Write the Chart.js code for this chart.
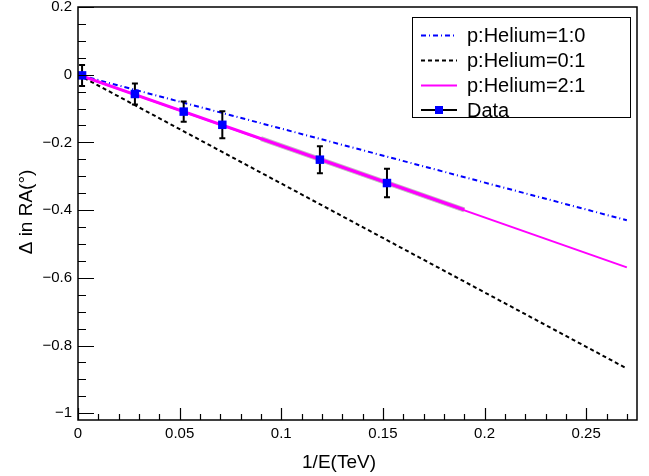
<!DOCTYPE html>
<html>
<head>
<meta charset="utf-8">
<script src="https://cdn.jsdelivr.net/npm/chart.js@4.4.0/dist/chart.umd.min.js"></script>
<style>
  body { margin: 0; background: #fff; }
  #wrap { width: 649px; height: 476px; }
</style>
</head>
<body>
<div id="wrap"><canvas id="c" width="649" height="476"></canvas></div>
<script>
// measured points
const dataX = [0.002, 0.028, 0.052, 0.071, 0.119, 0.152];
const dataY = [-0.002, -0.057, -0.109, -0.148, -0.251, -0.320];
const dataErr = [0.031, 0.031, 0.030, 0.040, 0.040, 0.042];

// model lines (start and end)
const modelX = [0, 0.27];
const protonOnly = [0, -0.43];   // p:Helium=1:0
const heliumOnly = [0, -0.868];  // p:Helium=0:1
const mixed21 = [0, -0.569];     // p:Helium=2:1

// fit over data range
const fitX = [0, 0.19];
const fitY = [0, -0.399];
const bandX = [0.09, 0.19];
const bandY = [-0.189, -0.399];

const xTicks = [0, 0.05, 0.1, 0.15, 0.2, 0.25];
const yTicks = [0.2, 0, -0.2, -0.4, -0.6, -0.8, -1];

const legendItems = ['p:Helium=1:0', 'p:Helium=0:1', 'p:Helium=2:1', 'Data'];

const FONT = "'Liberation Sans', Arial, sans-serif";

function pts(xs, ys) {
  return xs.map((x, i) => ({ x: x, y: ys[i] }));
}

function fmt(v) {
  let s = String(Math.round(v * 1000) / 1000);
  return s.replace('-', '\u2212');
}

const errorBars = {
  id: 'errorBars',
  beforeDatasetDraw(chart, args) {
    if (args.index !== 0) return;
    const ctx = chart.ctx;
    const xs = chart.scales.x, ys = chart.scales.y;
    ctx.save();
    ctx.strokeStyle = '#000';
    ctx.lineWidth = 2;
    dataX.forEach((x, i) => {
      const px = xs.getPixelForValue(x);
      const top = ys.getPixelForValue(dataY[i] + dataErr[i]);
      const bot = ys.getPixelForValue(dataY[i] - dataErr[i]);
      ctx.beginPath();
      ctx.moveTo(px, top); ctx.lineTo(px, bot);
      ctx.moveTo(px - 3, top); ctx.lineTo(px + 3, top);
      ctx.moveTo(px - 3, bot); ctx.lineTo(px + 3, bot);
      ctx.stroke();
    });
    ctx.restore();
  }
};

const rootFrame = {
  id: 'rootFrame',
  afterDatasetsDraw(chart) {
    const ctx = chart.ctx;
    const a = chart.chartArea;
    const xs = chart.scales.x, ys = chart.scales.y;
    ctx.save();
    ctx.strokeStyle = '#000';
    ctx.lineWidth = 1.5;
    ctx.strokeRect(a.left, a.top, a.right - a.left, a.bottom - a.top);
    ctx.lineWidth = 1.2;
    ctx.beginPath();
    // x ticks every 0.01, major every 0.05
    for (let k = 0; k <= 27; k++) {
      const px = Math.round(xs.getPixelForValue(k * 0.01)) + 0.5;
      const len = k % 5 === 0 ? 12 : 6;
      ctx.moveTo(px, a.bottom); ctx.lineTo(px, a.bottom - len);
    }
    // y ticks every 0.05, major every 0.2
    for (let k = -20; k <= 4; k++) {
      const py = Math.round(ys.getPixelForValue(k * 0.05)) + 0.5;
      const len = k % 4 === 0 ? 16 : 8;
      ctx.moveTo(a.left, py); ctx.lineTo(a.left + len, py);
    }
    ctx.stroke();

    // axis titles
    ctx.fillStyle = '#000';
    ctx.font = '19px ' + FONT;
    ctx.textAlign = 'center';
    ctx.textBaseline = 'middle';
    ctx.fillText('1/E(TeV)', 339, 463);
    ctx.translate(27, 212);
    ctx.rotate(-Math.PI / 2);
    ctx.fillText('\u0394 in RA(\u00B0)', 0, 0);
    ctx.restore();
  },
  afterDraw(chart) {
    const ctx = chart.ctx;
    ctx.save();
    ctx.fillStyle = '#fff';
    ctx.fillRect(412, 17, 218, 100);
    ctx.strokeStyle = '#000';
    ctx.lineWidth = 1;
    ctx.strokeRect(412.5, 17.5, 218, 100);
    const rows = [35.5, 60.5, 85.5, 110];
    const styles = [
      { c: '#0000ff', d: [5, 3, 1, 3] },
      { c: '#000', d: [4, 3] },
      { c: '#ff00ff', d: [] },
      { c: '#000', d: [] }
    ];
    styles.forEach((s, i) => {
      ctx.strokeStyle = s.c;
      ctx.lineWidth = 2;
      ctx.setLineDash(s.d);
      ctx.beginPath();
      ctx.moveTo(421, rows[i]); ctx.lineTo(457, rows[i]);
      ctx.stroke();
    });
    ctx.setLineDash([]);
    ctx.fillStyle = '#0000ff';
    ctx.fillRect(435, rows[3] - 4, 8, 8);
    ctx.fillStyle = '#000';
    ctx.font = '20px ' + FONT;
    ctx.textBaseline = 'middle';
    legendItems.forEach((t, i) => ctx.fillText(t, 467, rows[i] + 1));
    ctx.restore();
  }
};

new Chart(document.getElementById('c'), {
  type: 'scatter',
  data: {
    datasets: [
      {
        label: 'Data',
        data: pts(dataX, dataY),
        showLine: false,
        pointStyle: 'rect',
        pointRadius: 6,
        backgroundColor: '#0000ff',
        borderColor: '#0000ff',
        borderWidth: 0
      },
      {
        label: 'fit',
        data: pts(fitX, fitY),
        showLine: true,
        pointRadius: 0,
        borderColor: '#ff00ff',
        borderWidth: 3
      },
      {
        label: 'band',
        data: pts(bandX, bandY),
        showLine: true,
        pointRadius: 0,
        borderColor: 'rgba(140,140,140,0.55)',
        borderWidth: 5
      },
      {
        label: 'p:Helium=2:1',
        data: pts(modelX, mixed21),
        showLine: true,
        pointRadius: 0,
        borderColor: '#ff00ff',
        borderWidth: 2
      },
      {
        label: 'p:Helium=0:1',
        data: pts(modelX, heliumOnly),
        showLine: true,
        pointRadius: 0,
        borderColor: '#000',
        borderDash: [4, 3],
        borderWidth: 2
      },
      {
        label: 'p:Helium=1:0',
        data: pts(modelX, protonOnly),
        showLine: true,
        pointRadius: 0,
        borderColor: '#0000ff',
        borderDash: [5, 3, 1, 3],
        borderWidth: 2
      }
    ]
  },
  options: {
    responsive: false,
    animation: false,
    events: [],
    layout: { padding: { top: 7, right: 12, left: 0, bottom: 0 } },
    plugins: { legend: { display: false }, tooltip: { enabled: false } },
    scales: {
      x: {
        type: 'linear',
        min: 0,
        max: 0.275,
        afterFit: (s) => { s.height = 56; s.paddingLeft = 0; s.paddingRight = 0; },
        afterBuildTicks: (s) => { s.ticks = xTicks.map(v => ({ value: v })); },
        grid: { display: false, drawTicks: false },
        border: { display: false },
        ticks: {
          padding: 5,
          color: '#000',
          font: { family: FONT, size: 15 },
          maxRotation: 0,
          callback: (v) => fmt(v)
        }
      },
      y: {
        type: 'linear',
        min: -1.02,
        max: 0.2,
        afterFit: (s) => { s.width = 78; s.paddingTop = 0; s.paddingBottom = 0; },
        afterBuildTicks: (s) => { s.ticks = yTicks.map(v => ({ value: v })); },
        grid: { display: false, drawTicks: false },
        border: { display: false },
        ticks: {
          padding: 6,
          color: '#000',
          font: { family: FONT, size: 15 },
          callback: (v) => fmt(v)
        }
      }
    }
  },
  plugins: [errorBars, rootFrame]
});
</script>
</body>
</html>
